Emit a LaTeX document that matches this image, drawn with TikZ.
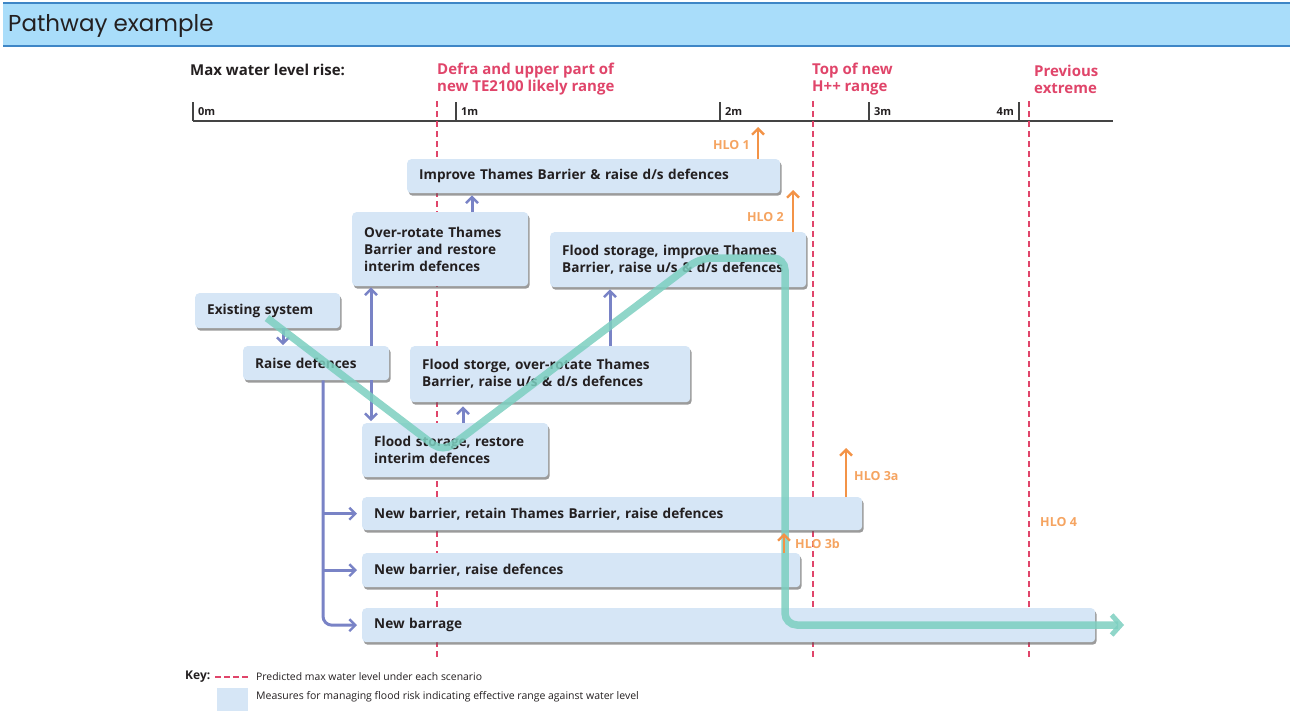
\documentclass[tikz,border=0pt]{standalone}
\usepackage{fontspec}
\setmainfont{Open Sans}
\newfontfamily\hdrfont{Poppins}
\usetikzlibrary{shadows,arrows.meta}
\definecolor{boxfill}{HTML}{D6E6F6}
\definecolor{redd}{HTML}{E0456A}
\definecolor{orng}{HTML}{F39347}
\definecolor{hlotext}{HTML}{F5A461}
\definecolor{bluea}{HTML}{7983C6}
\definecolor{tealc}{HTML}{7CCFC0}
\definecolor{hdrfill}{HTML}{A9DDFA}
\definecolor{hdrline}{HTML}{3E86C6}
\definecolor{txt}{HTML}{231F20}
\definecolor{axisc}{HTML}{444444}
\begin{document}
\begin{tikzpicture}[x=1pt,y=-1pt,
  box/.style={fill=boxfill, rounded corners=4pt, anchor=north west, inner xsep=12pt, inner ysep=0pt,
    align=left, text=txt, font=\bfseries\fontsize{13.6}{17}\selectfont,
    drop shadow={shadow xshift=1.5pt, shadow yshift=-2.5pt, fill=black!65, opacity=0.6}},
  barrow/.style={draw=bluea, line width=3pt, -{Straight Barb[length=6pt,width=12pt,line width=2.4pt]}},
  oarrow/.style={draw=orng, line width=2.8pt, -{Straight Barb[length=6pt,width=12pt,line width=2.4pt]}},
  reddash/.style={draw=redd, line width=2pt, dash pattern=on 6pt off 4pt},
  redlab/.style={anchor=west, text=redd, align=left, font=\bfseries\fontsize{15}{17}\selectfont},
  hlo/.style={text=hlotext, inner sep=0pt, font=\bfseries\fontsize{12.5}{14}\selectfont},
  tick/.style={draw=axisc, line width=1.2pt},
  ticklab/.style={text=txt, font=\bfseries\fontsize{11}{13}\selectfont},
  keytext/.style={anchor=west, text=txt, font=\fontsize{10.4}{12}\selectfont}
]
\useasboundingbox (0,0) rectangle (1290,713);
% header
\fill[hdrfill] (3,3) rectangle (1290,46);
\draw[hdrline, line width=1.5pt] (3,3) -- (1290,3);
\draw[hdrline, line width=2pt] (3,46) -- (1290,46);
\node[anchor=west, text=txt, font=\hdrfont\fontsize{23}{26}\selectfont, inner sep=0pt] (title) at (8,26) {Pathway example};
% axis labels
\node[anchor=west, inner sep=0pt, text=txt, font=\bfseries\fontsize{15}{17}\selectfont] (maxlab) at (190,70) {Max water level rise:};
\node[redlab, inner sep=0pt] (defra) at (437,79) {Defra and upper part of\\new TE2100 likely range};
\node[redlab, inner sep=0pt] (hpp) at (812,79) {Top of new\\H++ range};
\node[redlab, inner sep=0pt] (prev) at (1034,79) {Previous\\extreme};
% axis
\draw[axisc, line width=1.6pt] (193,121) -- (1113,121);
\draw[tick] (193,102) -- (193,121);
\draw[tick] (456,102) -- (456,121);
\draw[tick] (720,102) -- (720,121);
\draw[tick] (869,102) -- (869,121);
\draw[tick] (1019,102) -- (1019,121);
\node[ticklab, anchor=west, inner sep=0pt] (t0) at (198,112) {0m};
\node[ticklab, anchor=west, inner sep=0pt] (t1) at (461,112) {1m};
\node[ticklab, anchor=west, inner sep=0pt] (t2) at (725,112) {2m};
\node[ticklab, anchor=west, inner sep=0pt] (t3) at (874,112) {3m};
\node[ticklab, anchor=east, inner sep=0pt] (t4) at (1014,112) {4m};
% dashed level lines
\draw[reddash] (437,101) -- (437,660);
\draw[reddash] (813,101) -- (813,660);
\draw[reddash] (1029,101) -- (1029,660);
% boxes
\node[box, minimum width=373pt, minimum height=34pt, text width=349pt] (imp) at (407,159) {Improve Thames Barrier \& raise d/s defences};
\node[box, minimum width=176pt, minimum height=74pt, text width=152pt] (ovr) at (352,212) {Over-rotate Thames\\Barrier and restore\\interim defences};
\node[box, minimum width=256pt, minimum height=55pt, text width=232pt] (fsi) at (550,232) {Flood storage, improve Thames\\Barrier, raise u/s \& d/s defences};
\node[box, minimum width=145pt, minimum height=35pt, text width=121pt] (ex) at (195,293) {Existing system};
\node[box, minimum width=146pt, minimum height=34pt, text width=122pt] (rd) at (243,346) {Raise defences};
\node[box, minimum width=280pt, minimum height=56pt, text width=256pt] (fso) at (410,346) {Flood storge, over-rotate Thames\\Barrier, raise u/s \& d/s defences};
\node[box, minimum width=186pt, minimum height=54pt, text width=162pt] (fsr) at (362,423) {Flood storage, restore\\interim defences};
\node[box, minimum width=500pt, minimum height=33pt, text width=476pt] (nbr) at (362,497) {New barrier, retain Thames Barrier, raise defences};
\node[box, minimum width=438pt, minimum height=34pt, text width=414pt] (nbd) at (362,553) {New barrier, raise defences};
\node[box, minimum width=733pt, minimum height=34pt, text width=709pt] (nbg) at (362,608) {New barrage};
% blue connectors
\draw[barrow] ([xshift=88pt]ex.south west) -- ([xshift=40pt,yshift=1pt]rd.north west);
\draw[barrow] ([xshift=128pt]rd.north west) -- ([xshift=19pt,yshift=-1pt]ovr.south west);
\draw[barrow] ([xshift=128pt]rd.south west) -- ([xshift=9pt,yshift=2pt]fsr.north west);
\draw[barrow] ([xshift=101pt]fsr.north west) -- ([xshift=53pt,yshift=-4pt]fso.south west);
\draw[barrow] ([xshift=120pt]ovr.north west) -- ([xshift=65pt,yshift=-2pt]imp.south west);
\draw[barrow] ([xshift=200pt]fso.north west) -- ([xshift=60pt,yshift=-2pt]fsi.south west);
\coordinate (trunk) at ([xshift=80pt]rd.south west);
\draw[barrow, rounded corners=9pt] (trunk) |- ([xshift=-5pt]nbg.west);
\draw[barrow] (trunk |- nbr.west) -- ([xshift=-5pt]nbr.west);
\draw[barrow] (trunk |- nbd.west) -- ([xshift=-5pt]nbd.west);
% orange HLO arrows
\draw[oarrow] ([xshift=351pt]imp.north west) -- ++(0,-32) coordinate (h1);
\node[hlo, anchor=east] (hlo1) at (750,145) {HLO 1};
\draw[oarrow] ([xshift=243pt]fsi.north west) -- ++(0,-42) coordinate (h2);
\node[hlo, anchor=east] (hlo2) at (784,217) {HLO 2};
\draw[oarrow] ([xshift=484pt]nbr.north west) -- ++(0,-49) coordinate (h3a);
\node[hlo, anchor=west] (hlo3a) at (854,476) {HLO 3a};
% teal pathway
\coordinate (g0) at (267,318);
\coordinate (g1) at (443,452);
\coordinate (g2) at (700,258);
\coordinate (g3) at (785,258);
\coordinate (g4) at (785,625);
\coordinate (g5) at (1124,625);
\draw[tealc, opacity=0.85, line width=7.5pt, rounded corners=12pt, -{Straight Barb[length=9pt,width=20pt,line width=5pt]}]
  (g0) -- (g1) -- (g2) -- (g3) -- (g4) -- (g5);
\draw[oarrow] ([xshift=422pt]nbd.north west) -- ++(0,-20) coordinate (h3b);
\node[hlo, anchor=west] (hlo3b) at (795,544) {HLO 3b};
\node[hlo, anchor=west] (hlo4) at (1040,522) {HLO 4};
% key
\node[anchor=west, inner sep=0pt, text=txt, font=\bfseries\fontsize{12}{14}\selectfont] (keylab) at (185,677) {Key:};
\coordinate (kd0) at (215,677);
\coordinate (kd1) at (249,677);
\draw[redd, line width=2pt, dash pattern=on 6pt off 3pt] (kd0) -- (kd1);
\node[keytext, inner sep=0pt] (k1) at (256,677) {Predicted max water level under each scenario};
\fill[boxfill] (217,688) rectangle (248,711);
\node[keytext, inner sep=0pt, font=\fontsize{10.5}{12}\selectfont] (k2) at (256,697) {Measures for managing flood risk indicating effective range against water level};
\end{tikzpicture}
\end{document}
